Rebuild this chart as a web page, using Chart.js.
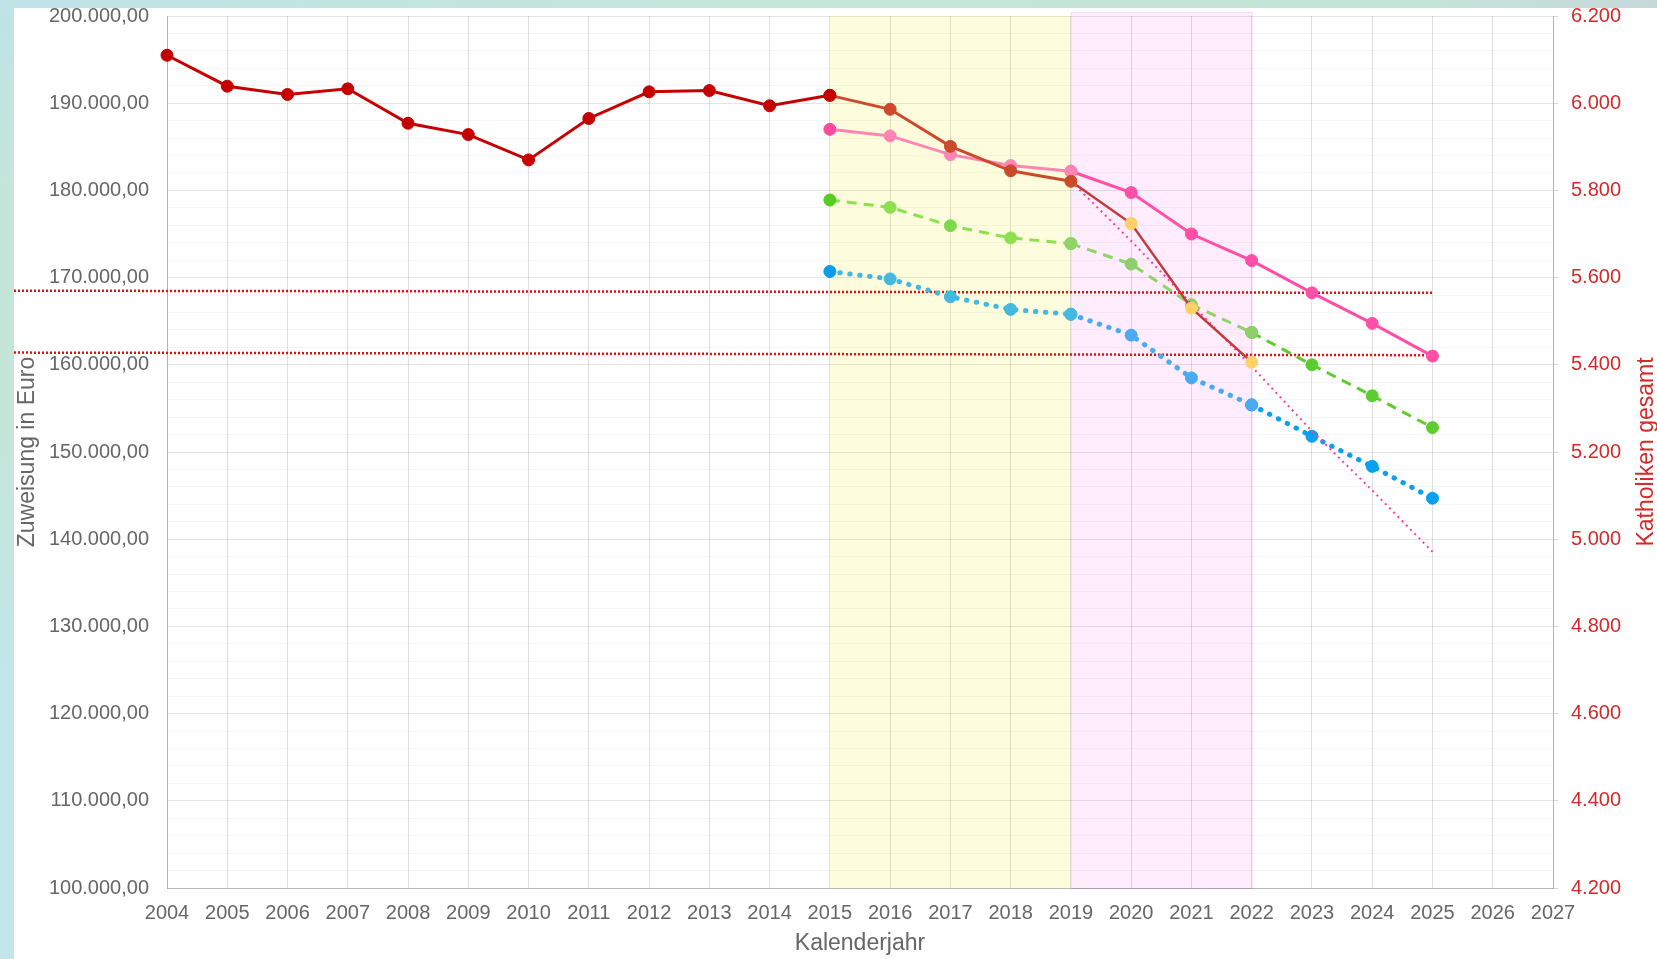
<!DOCTYPE html>
<html>
<head>
<meta charset="utf-8">
<script src="https://cdn.jsdelivr.net/npm/chart.js@4.4.1/dist/chart.umd.min.js"></script>
<style>
  html, body { margin: 0; padding: 0; width: 1657px; height: 959px; overflow: hidden; }
  body {
    position: relative;
    background: linear-gradient(90deg, #bfe3e8 0%, #c3e5e2 20%, #c6e6da 45%, #c5e5d8 85%, #c7d8db 100%);
  }
  #leftStrip {
    position: absolute; left: 0; top: 0; width: 14px; height: 959px;
    background: linear-gradient(180deg, #bfe3e7 0%, #c4e6da 20%, #c4e6d9 45%, #c2e6e9 70%, #c2e6e9 100%);
  }
  #panel { position: absolute; left: 14px; top: 8px; right: 0; bottom: 0; background: #fff; }
  #chart { position: absolute; left: 0; top: 0; }
</style>
</head>
<body>
<div id="leftStrip"></div>
<div id="panel"></div>
<canvas id="chart" width="1657" height="959"></canvas>
<script>
// categories
const years = ['2004', '2005', '2006', '2007', '2008', '2009', '2010', '2011', '2012', '2013', '2014', '2015',
  '2016', '2017', '2018', '2019', '2020', '2021', '2022', '2023', '2024', '2025', '2026', '2027'];

// Zuweisung (Euro)
const zuweisungIst = [195500, 191950, 191000, 191650, 187700, 186400, 183500, 188250, 191300, 191450, 189700, 190900]; // 2004-2015
const zuweisung1519 = [190900, 189300, 185050, 182250, 181050];          // 2015-2019
const zuweisung1922 = [181050, 176200, 166500, 160300];                  // 2019-2022
const zuweisungTrend = [181050, 174200, 167000, 159800, 152400, 145600, 138550]; // 2019-2025

const pink1519 = [187000, 186250, 184100, 182850, 182200];
const pink1925 = [182200, 179750, 175000, 171950, 168250, 164750, 161000];

const green1519 = [178900, 178050, 175950, 174550, 173900];
const green1922 = [173900, 171550, 166900, 163700];
const green2225 = [163700, 160000, 156450, 152800];

const blue1519 = [170700, 169850, 167800, 166350, 165800];
const blue1922 = [165800, 163400, 158500, 155400];
const blue2225 = [155400, 151800, 148350, 144700];

// red dotted limit lines: value at the left end, value at 2025
const upperLimit = [168500, 168250];
const lowerLimit = [161400, 161100];
const limitEnd = '2025';

// shaded year ranges
const yellowBand = ['2015', '2019'];
const pinkBand = ['2019', '2022'];

const leftTicksMajor = 10000;
const rightMin = 4200, rightMax = 6200, rightStep = 200;

function deNum(v, dec) {
  const s = Math.abs(v).toFixed(dec);
  let parts = s.split('.');
  let int = parts[0].replace(/\B(?=(\d{3})+(?!\d))/g, '.');
  return parts[1] ? int + ',' + parts[1] : int;
}

function from(startYear, values) {
  const i0 = years.indexOf(startYear);
  return values.map((v, i) => ({ x: years[i0 + i], y: v }));
}

function lineSet(data, color, pointColor, extra) {
  return Object.assign({
    data: data,
    borderColor: color,
    backgroundColor: pointColor,
    pointBackgroundColor: pointColor,
    pointBorderColor: pointColor,
    borderWidth: 3,
    pointRadius: 6,
    pointBorderWidth: 1,
    fill: false,
    tension: 0,
    yAxisID: 'y'
  }, extra || {});
}

const bandsPlugin = {
  id: 'bands',
  beforeDraw(chart) {
    const { ctx, chartArea, scales } = chart;
    const x = scales.x;
    const draw = (range, fill, stroke, extraTop) => {
      const x0 = x.getPixelForValue(years.indexOf(range[0]));
      const x1 = x.getPixelForValue(years.indexOf(range[1]));
      ctx.save();
      ctx.fillStyle = fill;
      ctx.fillRect(x0, chartArea.top - extraTop, x1 - x0, chartArea.bottom - chartArea.top + extraTop);
      if (stroke) {
        ctx.strokeStyle = stroke;
        ctx.lineWidth = 1;
        ctx.strokeRect(x0 + 0.5, chartArea.top - extraTop + 0.5, x1 - x0, chartArea.bottom - chartArea.top + extraTop);
      }
      ctx.restore();
    };
    draw(yellowBand, '#fdfdde', null, 0);
    draw(pinkBand, '#ffecfc', '#f3dcf2', 4);
  }
};

const limitsPlugin = {
  id: 'limits',
  beforeDatasetsDraw(chart) {
    const { ctx, scales } = chart;
    const xEnd = scales.x.getPixelForValue(years.indexOf(limitEnd));
    ctx.save();
    ctx.strokeStyle = '#dd1111';
    ctx.lineWidth = 2.5;
    ctx.setLineDash([2, 2]);
    [upperLimit, lowerLimit].forEach(l => {
      ctx.beginPath();
      ctx.moveTo(14, scales.y.getPixelForValue(l[0]));
      ctx.lineTo(xEnd, scales.y.getPixelForValue(l[1]));
      ctx.stroke();
    });
    ctx.restore();
  }
};

const rightTitlePlugin = {
  id: 'rightTitle',
  afterDraw(chart) {
    const { ctx, chartArea } = chart;
    ctx.save();
    ctx.translate(1647, (chartArea.top + chartArea.bottom) / 2);
    ctx.rotate(-Math.PI / 2);
    ctx.font = "23px 'Liberation Sans', Arial, sans-serif";
    ctx.fillStyle = '#d22a2a';
    ctx.textAlign = 'center';
    ctx.textBaseline = 'middle';
    ctx.fillText('Katholiken gesamt', 0, 0);
    ctx.restore();
  }
};

Chart.defaults.font.family = "'Liberation Sans', Arial, sans-serif";
Chart.defaults.color = '#666';

const chart = new Chart(document.getElementById('chart').getContext('2d'), {
  type: 'line',
  data: {
    labels: years,
    datasets: [
      lineSet(from('2004', zuweisungIst), '#c40000', '#c40000'),
      lineSet(from('2015', zuweisung1519), '#cc4a2c', '#cc4a2c'),
      lineSet(from('2019', zuweisung1922), '#c43a3a', '#ffd166', { borderWidth: 2.5 }),
      lineSet(from('2019', zuweisungTrend), '#ff3d9e', '#ff3d9e', { borderWidth: 2, borderDash: [2, 4], pointRadius: 0 }),
      lineSet(from('2015', pink1519), '#ff86b4', ['#ff4aa0', '#ff86b4', '#ff86b4', '#ff86b4', '#ff86b4']),
      lineSet(from('2019', pink1925), '#ff4fa6', '#ff4fa6'),
      lineSet(from('2015', green1519), '#8ee04e', ['#55cc22', '#8ee04e', '#7ed94a', '#8ee04e', '#8ed466'], { borderDash: [10, 7] }),
      lineSet(from('2019', green1922), '#8ed466', '#8ccf6c', { borderDash: [10, 7] }),
      lineSet(from('2022', green2225), '#5ccc2e', '#5ccc2e', { borderDash: [10, 7] }),
      lineSet(from('2015', blue1519), '#44b8e0', ['#0a9aee', '#44b8e0', '#44b8e0', '#44b8e0', '#44b8e0'], { borderWidth: 5, borderDash: [0.5, 9.5], borderCapStyle: 'round' }),
      lineSet(from('2019', blue1922), '#4aaaf2', '#4aaaf2', { borderWidth: 5, borderDash: [0.5, 9.5], borderCapStyle: 'round' }),
      lineSet(from('2022', blue2225), '#0aa0f0', '#0aa0f0', { borderWidth: 5, borderDash: [0.5, 9.5], borderCapStyle: 'round' })
    ]
  },
  options: {
    responsive: false,
    animation: false,
    devicePixelRatio: 1,
    layout: { padding: { top: 16, left: 0, right: 0, bottom: 0 } },
    plugins: { legend: { display: false }, tooltip: { enabled: false } },
    scales: {
      x: {
        type: 'category',
        offset: false,
        grid: { color: 'rgba(0,0,0,0.12)', drawTicks: false },
        border: { color: 'rgba(0,0,0,0.2)' },
        ticks: { font: { size: 20 }, color: '#666', padding: 13.5, maxRotation: 0, autoSkip: false },
        title: { display: true, text: 'Kalenderjahr', font: { size: 23 }, color: '#666', padding: { top: 0, bottom: 2 } },
        afterFit: s => { s.height = 71; }
      },
      y: {
        position: 'left',
        min: 100000,
        max: 200000,
        grid: {
          drawTicks: false,
          color: c => (c.tick && c.tick.value % leftTicksMajor === 0) ? 'rgba(0,0,0,0.1)' : 'rgba(0,0,0,0.04)'
        },
        border: { color: 'rgba(0,0,0,0.2)' },
        ticks: {
          stepSize: 2000,
          autoSkip: false,
          font: { size: 20 },
          color: '#666',
          padding: 18,
          callback: v => v % leftTicksMajor === 0 ? deNum(v, 2) : ''
        },
        title: { display: true, text: 'Zuweisung in Euro', font: { size: 23 }, color: '#666', padding: { top: 14, bottom: 0 } },
        afterFit: s => { s.width = 167; s.paddingTop = 0; s.paddingBottom = 0; }
      },
      y1: {
        position: 'right',
        min: rightMin,
        max: rightMax,
        grid: { drawOnChartArea: false, drawTicks: true, tickLength: 5, tickColor: 'rgba(0,0,0,0.15)' },
        border: { color: 'rgba(0,0,0,0.2)' },
        ticks: { stepSize: rightStep, font: { size: 20 }, color: '#d22a2a', padding: 13, callback: v => deNum(v, 0) },
        afterFit: s => { s.width = 104; s.paddingTop = 0; s.paddingBottom = 0; }
      }
    }
  },
  plugins: [bandsPlugin, limitsPlugin, rightTitlePlugin]
});
</script>
</body>
</html>
